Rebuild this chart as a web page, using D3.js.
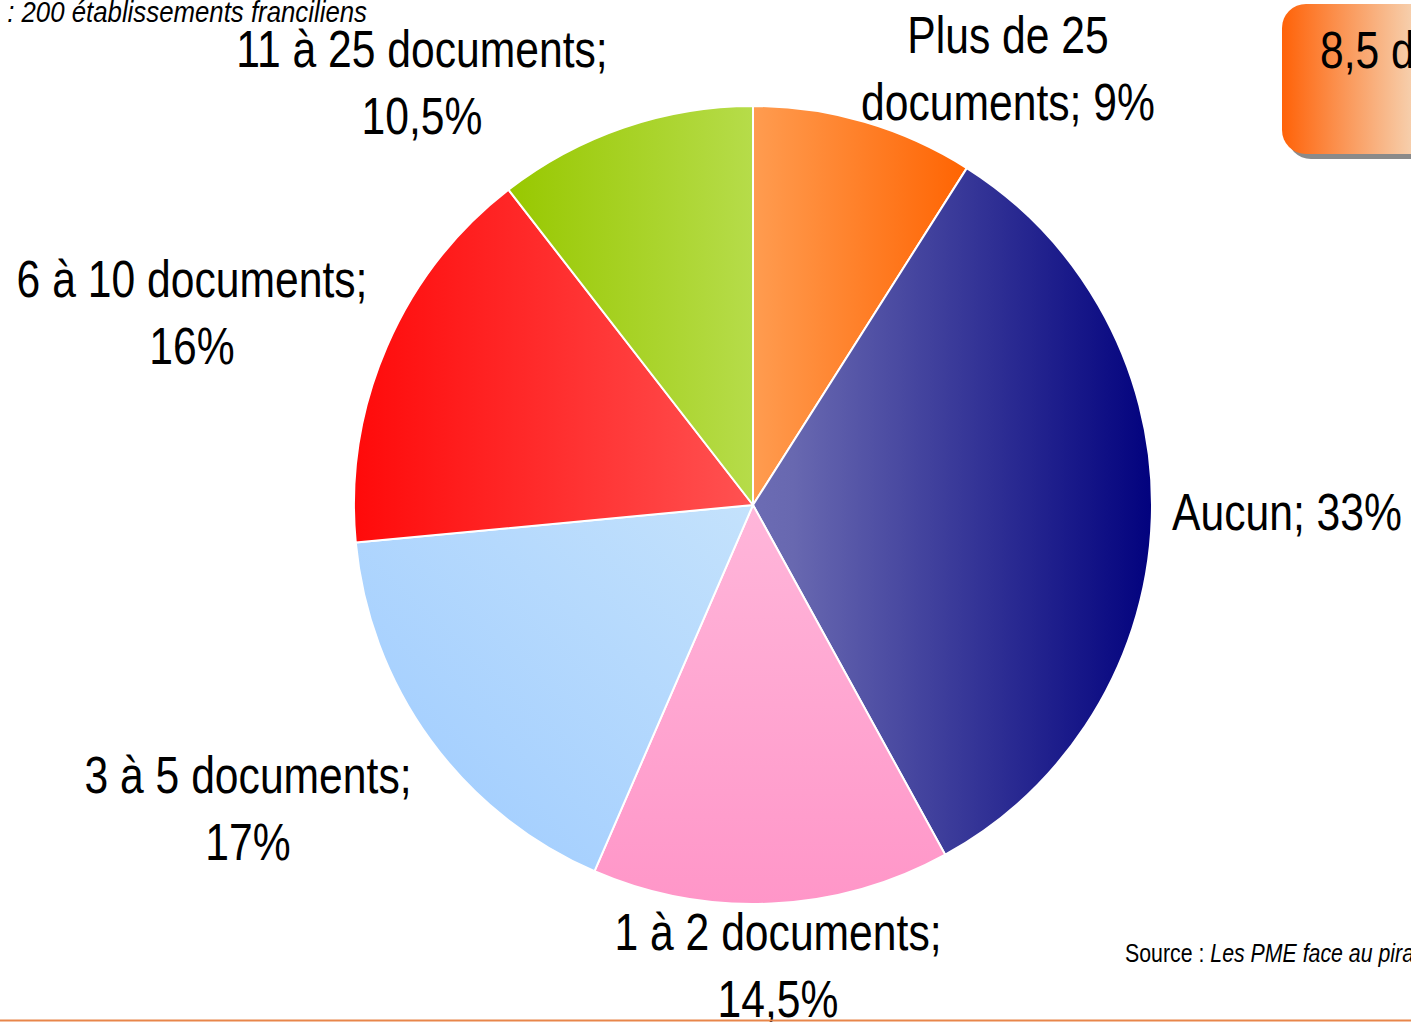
<!DOCTYPE html>
<html>
<head>
<meta charset="utf-8">
<script src="https://cdn.jsdelivr.net/npm/d3@7"></script>
<style>
  body { margin: 0; background: #fff; }
  text { font-family: "Liberation Sans", Arial, sans-serif; }
</style>
</head>
<body>
<div id="chart"></div>
<script>
// data
var categories = ["Plus de 25 documents", "Aucun", "1 à 2 documents", "3 à 5 documents", "6 à 10 documents", "11 à 25 documents"];
var shares = [9, 33, 14.5, 17, 16, 10.5];
var labelLines = [
  ["Plus de 25", "documents; 9%"],
  ["Aucun; 33%"],
  ["1 à 2 documents;", "14,5%"],
  ["3 à 5 documents;", "17%"],
  ["6 à 10 documents;", "16%"],
  ["11 à 25 documents;", "10,5%"]
];
var boxText = "8,5 documents";
var subtitle = ": 200 établissements franciliens";
var sourceLead = "Source : ";
var sourceTitle = "Les PME face au piratage";

function drawChart() {
  "use strict";
  var width = 1411;
  var height = 1022;
  var cx = 753, cy = 505, radius = 399;
  var narrow = 0.82; // squeeze to look like Arial Narrow

  // gradient per slice: [x1,y1,x2,y2, stops]
  var grads = [
    ["0%", "0%", "100%", "0%", [[0, "#ff9c50"], [1, "#ff6402"]]],
    ["0%", "0%", "100%", "0%", [[0, "#6c6cb4"], [0.1, "#6868b0"], [1, "#02027e"]]],
    ["0%", "0%", "0%", "100%", [[0, "#ffb6da"], [1, "#ff96c8"]]],
    ["0%", "100%", "100%", "0%", [[0, "#9ccaff"], [1, "#c4e2fc"]]],
    ["0%", "0%", "100%", "0%", [[0, "#ff0a0a"], [1, "#ff5252"]]],
    ["0%", "0%", "100%", "0%", [[0, "#98c800"], [1, "#b6dc4a"]]]
  ];

  // first-line baseline of each label, relative to pie centre
  var labelPos = [
    [255, -452, "middle"],
    [419, 25, "start"],
    [25, 445, "middle"],
    [-505, 288, "middle"],
    [-561, -208, "middle"],
    [-331, -438, "middle"]
  ];

  var svg = d3.select("#chart").append("svg")
    .attr("width", width)
    .attr("height", height);

  var defs = svg.append("defs");
  grads.forEach(function(g, i) {
    var lg = defs.append("linearGradient")
      .attr("id", "grad" + i)
      .attr("x1", g[0]).attr("y1", g[1])
      .attr("x2", g[2]).attr("y2", g[3]);
    g[4].forEach(function(s) {
      lg.append("stop").attr("offset", s[0]).attr("stop-color", s[1]);
    });
  });

  var boxGrad = defs.append("linearGradient").attr("id", "boxGrad")
    .attr("gradientUnits", "userSpaceOnUse")
    .attr("x1", 1282).attr("y1", 0).attr("x2", 1418).attr("y2", 0);
  boxGrad.append("stop").attr("offset", "0%").attr("stop-color", "#ff6208");
  boxGrad.append("stop").attr("offset", "100%").attr("stop-color", "#f6d4b4");

  var pie = d3.pie().sort(null).value(function(d) { return d; });
  var arc = d3.arc().innerRadius(0).outerRadius(radius);

  var g = svg.append("g").attr("transform", "translate(" + cx + "," + cy + ")");

  g.selectAll("path.slice")
    .data(pie(shares))
    .enter().append("path")
    .attr("class", "slice")
    .attr("d", arc)
    .attr("fill", function(d, i) { return "url(#grad" + i + ")"; })
    .attr("stroke", "#fff")
    .attr("stroke-width", 2)
    .attr("stroke-linejoin", "round");

  // helper: narrow text placed at x,y
  function narrowText(parent, x, y, sx) {
    return parent.append("g")
      .attr("transform", "translate(" + x + "," + y + ") scale(" + (sx || narrow) + ",1)")
      .append("text");
  }

  var lineH = 67;
  labelLines.forEach(function(lines, i) {
    var p = labelPos[i];
    var t = narrowText(g, p[0], p[1])
      .attr("text-anchor", p[2])
      .style("font-size", "52px")
      .style("fill", "#000");
    lines.forEach(function(l, j) {
      t.append("tspan")
        .attr("x", 0)
        .attr("y", j * lineH)
        .text(l);
    });
  });

  // subtitle, cut at left
  narrowText(svg, 367, 22, 0.86)
    .attr("text-anchor", "end")
    .style("font-size", "30px")
    .style("font-style", "italic")
    .text(subtitle);

  // orange box top right
  svg.append("rect")
    .attr("x", 1287).attr("y", 9)
    .attr("width", 200).attr("height", 150)
    .attr("rx", 24)
    .attr("fill", "#8a8a8a");
  svg.append("rect")
    .attr("x", 1282).attr("y", 4)
    .attr("width", 200).attr("height", 150)
    .attr("rx", 24)
    .attr("fill", "url(#boxGrad)");
  narrowText(svg, 1320, 68)
    .style("font-size", "52px")
    .text(boxText);

  // source
  var src = narrowText(svg, 1125, 962)
    .style("font-size", "26px");
  src.append("tspan").text(sourceLead);
  src.append("tspan").style("font-style", "italic").text(sourceTitle);

  // bottom rule
  svg.append("line")
    .attr("x1", 0).attr("x2", width)
    .attr("y1", 1020.5).attr("y2", 1020.5)
    .attr("stroke", "#e8864a")
    .attr("stroke-width", 2);
}

drawChart();
</script>
</body>
</html>
